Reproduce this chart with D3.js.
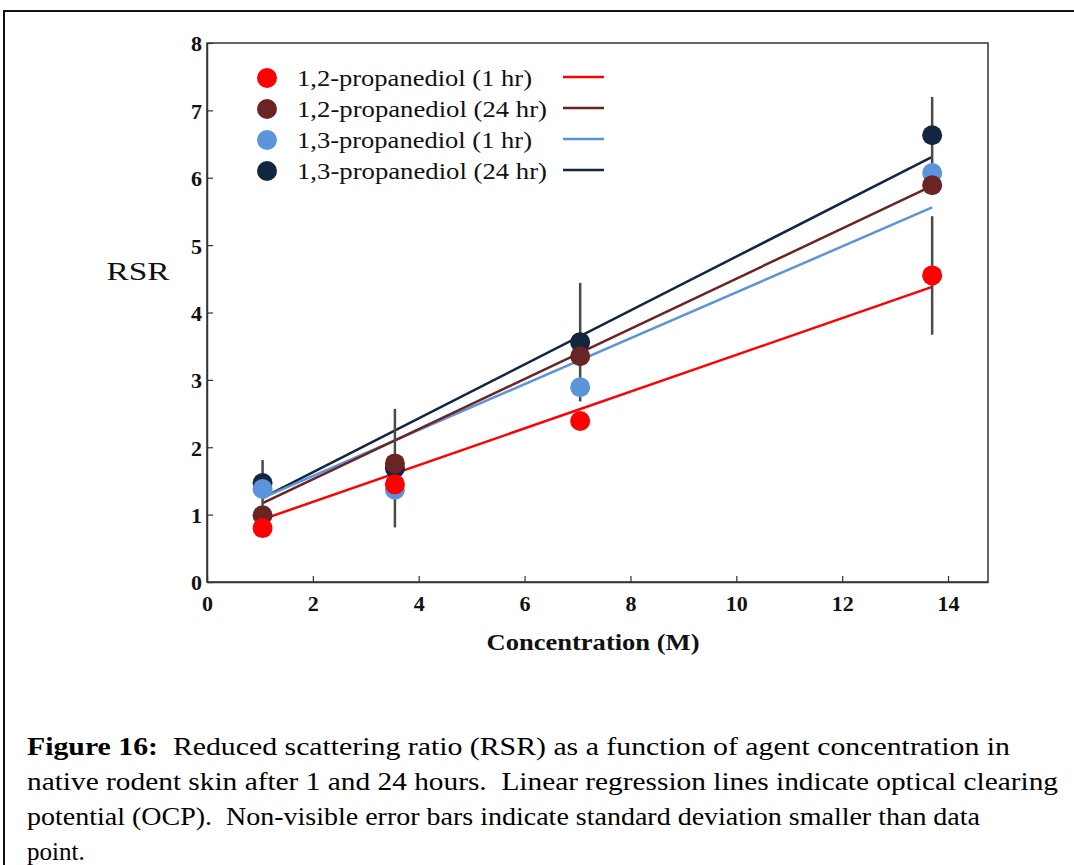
<!DOCTYPE html>
<html>
<head>
<meta charset="utf-8">
<title>RSR vs concentration</title>
<script src="https://d3js.org/d3.v7.min.js"></script>
<style>
  body { margin: 0; background: #fff; }
  svg { display: block; font-family: "Liberation Serif", "Times New Roman", serif; }
</style>
</head>
<body>
<div id="chart"></div>
<script>
// data
var concentrations = [1.05, 3.55, 7.05, 13.7];
var seriesNames = ["1,2-propanediol (1 hr)", "1,2-propanediol (24 hr)", "1,3-propanediol (1 hr)", "1,3-propanediol (24 hr)"];
var rsr12_1h  = [0.80, 1.45, 2.39, 4.55];
var rsr12_24h = [0.99, 1.76, 3.35, 5.89];
var rsr13_1h  = [1.38, 1.37, 2.89, 6.07];
var rsr13_24h = [1.47, 1.69, 3.56, 6.63];
// standard deviations (0 = not visible)
var sd12_1h  = [0, 0, 0, 0.88];
var sd12_24h = [0, 0, 0, 0];
var sd13_1h  = [0, 0, 0, 0];
var sd13_24h = [0.34, 0.88, 0.88, 0.57];
// regression line values at first and last concentration
var fit12_1h  = [0.93, 4.38];
var fit12_24h = [1.17, 5.88];
var fit13_1h  = [1.25, 5.56];
var fit13_24h = [1.25, 6.31];
var xTicks = [0, 2, 4, 6, 8, 10, 12, 14];
var yTicks = [0, 1, 2, 3, 4, 5, 6, 7, 8];
var captionLines = [
  "native rodent skin after 1 and 24 hours.  Linear regression lines indicate optical clearing",
  "potential (OCP).  Non-visible error bars indicate standard deviation smaller than data",
  "point."
];
var captionWidths = [1031, 953, 0];
var legendWidths = [235, 250, 235, 250];

(function() {
var colors = ["#ff0000", "#6b2424", "#5b94db", "#13263f"];

var series = [
  { name: seriesNames[0], y: rsr12_1h,  sd: sd12_1h,  fit: fit12_1h,  color: colors[0], w: legendWidths[0] },
  { name: seriesNames[1], y: rsr12_24h, sd: sd12_24h, fit: fit12_24h, color: colors[1], w: legendWidths[1] },
  { name: seriesNames[2], y: rsr13_1h,  sd: sd13_1h,  fit: fit13_1h,  color: colors[2], w: legendWidths[2] },
  { name: seriesNames[3], y: rsr13_24h, sd: sd13_24h, fit: fit13_24h, color: colors[3], w: legendWidths[3] }
];
// drawing order in the figure: 24hr 1,3 at the back, 1hr 1,2 on top
var drawOrder = [3, 2, 1, 0];

var W = 1074, H = 865;
var svg = d3.select("#chart").append("svg").attr("width", W).attr("height", H);

// outer frame (runs off right and bottom)
svg.append("rect").attr("x", 4).attr("y", 11).attr("width", 1090).attr("height", 880)
  .attr("fill", "none").attr("stroke", "#111").attr("stroke-width", 2);

var pLeft = 207, pRight = 988, pTop = 43, pBottom = 582;
var x = d3.scaleLinear().domain([0, 14.755]).range([pLeft, pRight]);
var y = d3.scaleLinear().domain([0, 8]).range([pBottom, pTop]);

var g = svg.append("g");

// plot box
g.append("rect").attr("x", pLeft).attr("y", pTop).attr("width", pRight - pLeft).attr("height", pBottom - pTop)
  .attr("fill", "none").attr("stroke", "#333").attr("stroke-width", 1.5);

var xAxis = g.append("g").attr("transform", "translate(0," + pBottom + ")")
  .call(d3.axisBottom(x).tickValues(xTicks).tickSizeInner(-6).tickSizeOuter(0).tickPadding(13));
var yAxis = g.append("g").attr("transform", "translate(" + pLeft + ",0)")
  .call(d3.axisLeft(y).tickValues(yTicks).tickSizeInner(-6).tickSizeOuter(0).tickPadding(5));
[xAxis, yAxis].forEach(function(a) {
  a.select(".domain").attr("stroke", "#333").attr("stroke-width", 1.5);
  a.selectAll(".tick line").attr("stroke", "#333").attr("stroke-width", 1.2);
  a.selectAll("text").attr("font-family", "Liberation Serif, serif").attr("font-size", 22)
    .attr("font-weight", "bold").attr("fill", "#111");
});
xAxis.selectAll("text").attr("dy", "0.71em");
yAxis.selectAll("text").attr("dy", "0.36em");

// axis titles
svg.append("text").attr("x", 138).attr("y", 280).attr("text-anchor", "middle")
  .attr("font-size", 25).attr("fill", "#111")
  .attr("textLength", 63).attr("lengthAdjust", "spacingAndGlyphs").text("RSR");
svg.append("text").attr("x", 593).attr("y", 650).attr("text-anchor", "middle")
  .attr("font-size", 23).attr("font-weight", "bold").attr("fill", "#111")
  .attr("textLength", 213).attr("lengthAdjust", "spacingAndGlyphs")
  .text("Concentration (M)");

// regression lines
var first = concentrations[0], last = concentrations[concentrations.length - 1];
g.selectAll("line.fit").data(drawOrder.map(function(i) { return series[i]; }))
  .enter().append("line").attr("class", "fit")
  .attr("x1", x(first)).attr("x2", x(last))
  .attr("y1", function(d) { return y(d.fit[0]); })
  .attr("y2", function(d) { return y(d.fit[1]); })
  .attr("stroke", function(d) { return d.color; })
  .attr("stroke-width", 2.5);

// error bars
var bars = [];
series.forEach(function(s) {
  s.sd.forEach(function(e, k) {
    if (e > 0) bars.push({ x: concentrations[k], y: s.y[k], e: e });
  });
});
g.selectAll("line.err").data(bars).enter().append("line").attr("class", "err")
  .attr("x1", function(d) { return x(d.x); }).attr("x2", function(d) { return x(d.x); })
  .attr("y1", function(d) { return y(d.y + d.e); })
  .attr("y2", function(d) { return y(d.y - d.e); })
  .attr("stroke", "#4a4a4a").attr("stroke-width", 2.5);

// points
drawOrder.forEach(function(i) {
  var s = series[i];
  g.append("g").selectAll("circle").data(concentrations).enter().append("circle")
    .attr("cx", function(c) { return x(c); })
    .attr("cy", function(c, k) { return y(s.y[k]); })
    .attr("r", 10)
    .attr("fill", s.color);
});

// legend
var legend = svg.append("g").attr("transform", "translate(267,78)");
var item = legend.selectAll("g").data(series).enter().append("g")
  .attr("transform", function(d, i) { return "translate(0," + (i * 31) + ")"; });
item.append("circle").attr("r", 10).attr("fill", function(d) { return d.color; });
item.append("text").attr("x", 30).attr("y", 8).attr("font-size", 23).attr("fill", "#111")
  .attr("textLength", function(d) { return d.w; }).attr("lengthAdjust", "spacingAndGlyphs")
  .text(function(d) { return d.name; });
item.append("line").attr("x1", 296).attr("x2", 337).attr("y1", -1).attr("y2", -1)
  .attr("stroke", function(d) { return d.color; }).attr("stroke-width", 2.5);

// caption
var cap = svg.append("g").attr("font-size", 25).attr("fill", "#000");
var l1 = cap.append("text").attr("x", 27).attr("y", 755).style("white-space", "pre")
  .attr("textLength", 983).attr("lengthAdjust", "spacingAndGlyphs");
l1.append("tspan").attr("font-weight", "bold").text("Figure 16:");
l1.append("tspan").text("  Reduced scattering ratio (RSR) as a function of agent concentration in");
cap.selectAll("text.cl").data(captionLines).enter().append("text").attr("class", "cl")
  .attr("x", 27).attr("y", function(d, i) { return 790 + i * 35; })
  .style("white-space", "pre")
  .each(function(d, i) {
    if (captionWidths[i] > 0) d3.select(this).attr("textLength", captionWidths[i]).attr("lengthAdjust", "spacingAndGlyphs");
  })
  .text(function(d) { return d; });
})();
</script>
</body>
</html>
